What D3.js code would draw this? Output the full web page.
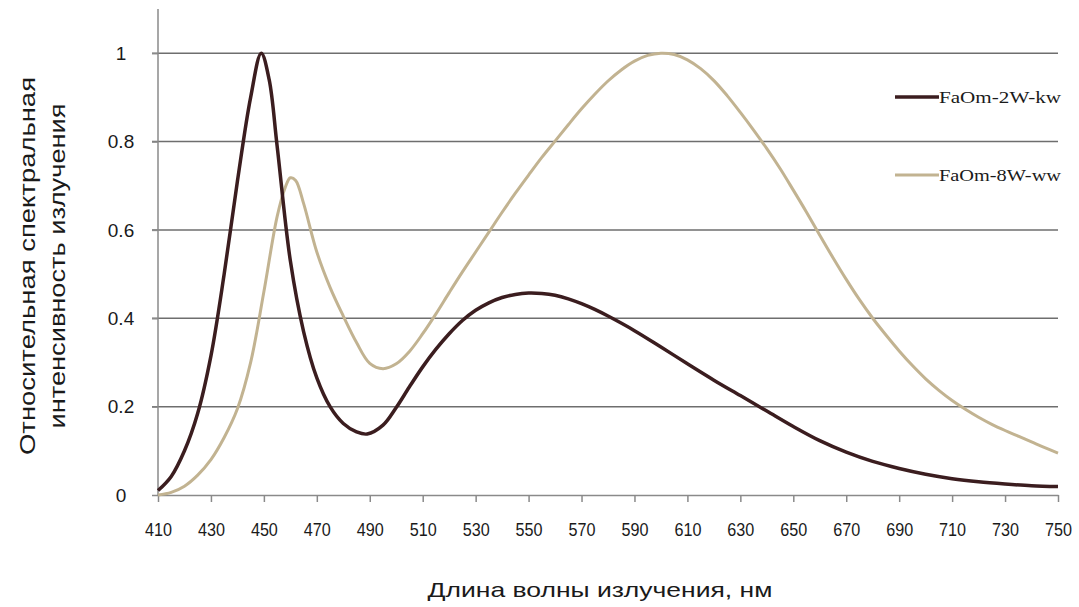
<!DOCTYPE html>
<html>
<head>
<meta charset="utf-8">
<script src="https://cdn.jsdelivr.net/npm/d3@7"></script>
<style>
  body { margin: 0; background: #fff; }
  svg { display: block; }
</style>
</head>
<body>
<div id="chart"></div>
<script>
// wavelengths (nm) and relative intensities
const kwWave = [410, 415, 420, 425, 430, 435, 440, 445, 449, 452, 455, 460, 465, 470, 475, 480, 485, 489, 495, 500,
  505, 510, 515, 520, 525, 530, 535, 540, 545, 550, 555, 560, 565, 570, 575, 580, 590, 600, 610, 620,
  630, 640, 650, 660, 670, 680, 690, 700, 710, 720, 730, 740, 750];
const kwValues = [0.01, 0.042, 0.1, 0.185, 0.315, 0.5, 0.71, 0.9, 1.0, 0.94, 0.79, 0.53, 0.37, 0.265, 0.2, 0.162, 0.143, 0.138, 0.158, 0.198,
  0.245, 0.29, 0.33, 0.365, 0.395, 0.418, 0.435, 0.447, 0.454, 0.457, 0.456, 0.452, 0.444, 0.433, 0.42, 0.405, 0.372, 0.335, 0.297, 0.26,
  0.225, 0.19, 0.155, 0.123, 0.097, 0.076, 0.06, 0.047, 0.037, 0.03, 0.025, 0.021, 0.019];

const wwWave = [410, 415, 420, 425, 430, 435, 440, 445, 450, 455, 458, 460, 462, 465, 470, 475, 480, 485, 490, 495,
  500, 505, 510, 515, 520, 525, 530, 535, 540, 545, 550, 555, 560, 565, 570, 575, 580, 585, 590, 595,
  600, 605, 610, 615, 620, 625, 630, 635, 640, 645, 650, 655, 660, 665, 670, 675, 680, 685, 690, 695,
  700, 705, 710, 715, 720, 725, 730, 735, 740, 745, 750];
const wwValues = [0.0, 0.006, 0.02, 0.045, 0.08, 0.13, 0.195, 0.3, 0.46, 0.63, 0.695, 0.718, 0.712, 0.66, 0.55, 0.47, 0.405, 0.345, 0.298, 0.286,
  0.297, 0.325, 0.365, 0.41, 0.458, 0.505, 0.55, 0.595, 0.64, 0.683, 0.724, 0.764, 0.801, 0.838, 0.874, 0.907, 0.937, 0.962, 0.982, 0.995,
  1.0, 0.997, 0.985, 0.965, 0.938, 0.904, 0.866, 0.826, 0.784, 0.739, 0.69, 0.64, 0.588, 0.537, 0.488, 0.442, 0.4, 0.362, 0.326, 0.293,
  0.263, 0.237, 0.214, 0.194, 0.176, 0.16, 0.146, 0.133, 0.12, 0.107, 0.095];

const xTicks = d3.range(410, 751, 20);
const yTicks = [0, 0.2, 0.4, 0.6, 0.8, 1];
const seriesNames = ['FaOm-2W-kw', 'FaOm-8W-ww'];
const seriesColors = ['#3b1d1f', '#c2b391'];

const width = 1079, height = 607;
const margin = { top: 9, right: 21, bottom: 112, left: 158 };

const svg = d3.select('#chart').append('svg')
  .attr('width', width)
  .attr('height', height);

const x = d3.scaleLinear().domain([410, 750]).range([margin.left, width - margin.right]);
const y = d3.scaleLinear().domain([0, 1.1]).range([height - margin.bottom, margin.top]);

// horizontal gridlines
svg.append('g')
  .selectAll('line')
  .data(yTicks.filter(d => d > 0))
  .join('line')
  .attr('x1', x(410) - 6)
  .attr('x2', x(750))
  .attr('y1', d => y(d))
  .attr('y2', d => y(d))
  .attr('stroke', '#6e6e6e')
  .attr('stroke-width', 1.5);

// y axis
const yAxis = svg.append('g')
  .attr('transform', `translate(${x(410)},0)`)
  .call(d3.axisLeft(y).tickValues(yTicks).tickSize(6).tickPadding(14)
    .tickFormat(d => d === 0 ? '0' : d3.format('')(d)));
yAxis.select('.domain').attr('stroke', '#8a8a8a').attr('stroke-width', 1.5).attr('d', `M0,${y(1.1)}V${y(0)}`);
yAxis.selectAll('.tick line').attr('stroke', '#8a8a8a').attr('stroke-width', 1.5);
yAxis.selectAll('.tick text')
  .attr('x', -37)
  .attr('text-anchor', 'middle')
  .attr('font-family', 'Liberation Sans, Arial, sans-serif')
  .attr('font-size', 19)
  .attr('fill', '#1a1a1a');

// x axis
const xAxis = svg.append('g')
  .attr('transform', `translate(0,${y(0)})`)
  .call(d3.axisBottom(x).tickValues(xTicks).tickSize(7).tickPadding(21).tickSizeOuter(0));
xAxis.select('.domain').attr('stroke', '#8a8a8a').attr('stroke-width', 1.5);
xAxis.selectAll('.tick line').attr('stroke', '#8a8a8a').attr('stroke-width', 1.5);
xAxis.selectAll('.tick text')
  .attr('font-family', 'Liberation Sans, Arial, sans-serif')
  .attr('font-size', 18)
  .attr('textLength', 27)
  .attr('lengthAdjust', 'spacingAndGlyphs')
  .attr('fill', '#1a1a1a');

// curves
const line = d3.line()
  .x(d => x(d[0]))
  .y(d => y(d[1]))
  .curve(d3.curveCatmullRom.alpha(0.5));

svg.append('path')
  .datum(d3.zip(wwWave, wwValues))
  .attr('fill', 'none')
  .attr('stroke', seriesColors[1])
  .attr('stroke-width', 3)
  .attr('d', line);

svg.append('path')
  .datum(d3.zip(kwWave, kwValues))
  .attr('fill', 'none')
  .attr('stroke', seriesColors[0])
  .attr('stroke-width', 3.5)
  .attr('d', line);

// legend
const legend = svg.append('g')
  .selectAll('g')
  .data(seriesNames)
  .join('g')
  .attr('transform', (d, i) => `translate(895,${97 + i * 78})`);
legend.append('line')
  .attr('x1', 0).attr('x2', 44)
  .attr('stroke', (d, i) => seriesColors[i])
  .attr('stroke-width', (d, i) => i === 0 ? 3.5 : 3);
legend.append('text')
  .attr('x', 44)
  .attr('dy', '0.35em')
  .attr('font-family', 'Liberation Serif, Times New Roman, serif')
  .attr('font-size', 16)
  .attr('textLength', 122)
  .attr('lengthAdjust', 'spacingAndGlyphs')
  .attr('fill', '#1a1a1a')
  .text(d => d);

// axis titles
svg.append('text')
  .attr('x', 600)
  .attr('y', 590)
  .attr('dy', '0.35em')
  .attr('text-anchor', 'middle')
  .attr('font-family', 'Liberation Sans, Arial, sans-serif')
  .attr('font-size', 21)
  .attr('textLength', 345)
  .attr('lengthAdjust', 'spacingAndGlyphs')
  .attr('fill', '#1a1a1a')
  .text('Длина волны излучения, нм');

const yTitle = svg.append('text')
  .attr('transform', 'translate(0,266) rotate(-90)')
  .attr('text-anchor', 'middle')
  .attr('font-family', 'Liberation Sans, Arial, sans-serif')
  .attr('font-size', 22)
  .attr('fill', '#1a1a1a');
yTitle.append('tspan').attr('x', 0).attr('y', 35).attr('textLength', 378).attr('lengthAdjust', 'spacingAndGlyphs')
  .text('Относительная спектральная');
yTitle.append('tspan').attr('x', 0).attr('y', 65).attr('textLength', 325).attr('lengthAdjust', 'spacingAndGlyphs')
  .text('интенсивность излучения');
</script>
</body>
</html>
